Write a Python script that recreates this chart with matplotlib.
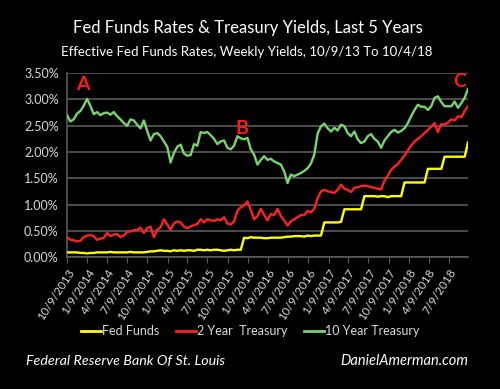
import matplotlib
matplotlib.use("Agg")
import matplotlib.pyplot as plt
import pandas as pd

# Weekly-ish readings, 10/9/13 to 10/4/18 (121 evenly spaced samples)
start_date = "2013-10-09"
end_date = "2018-10-04"

ten_year = [
    2.70, 2.58, 2.62, 2.73, 2.78, 2.88, 3.01, 2.88, 2.72, 2.76,
    2.70, 2.74, 2.75, 2.71, 2.76, 2.68, 2.62, 2.55, 2.50, 2.62,
    2.60, 2.52, 2.45, 2.60, 2.40, 2.22, 2.34, 2.36, 2.30, 2.20,
    2.10, 1.80, 1.98, 2.10, 2.14, 1.97, 1.93, 1.94, 2.15, 2.12,
    2.38, 2.36, 2.38, 2.32, 2.25, 2.15, 2.20, 2.22, 2.08, 2.05,
    2.12, 2.30, 2.26, 2.24, 2.27, 2.05, 1.95, 1.76, 1.85, 1.92,
    1.85, 1.87, 1.82, 1.79, 1.76, 1.63, 1.41, 1.57, 1.54, 1.57,
    1.60, 1.64, 1.69, 1.78, 1.95, 2.35, 2.49, 2.54, 2.45, 2.39,
    2.46, 2.41, 2.52, 2.49, 2.36, 2.30, 2.39, 2.24, 2.17, 2.20,
    2.30, 2.34, 2.25, 2.20, 2.08, 2.22, 2.30, 2.38, 2.42, 2.37,
    2.40, 2.45, 2.55, 2.68, 2.80, 2.90, 2.86, 2.86, 2.80, 2.87,
    3.03, 3.06, 2.95, 2.87, 2.87, 2.87, 2.96, 2.84, 2.93, 3.03,
    3.20,
]

two_year = [
    0.38, 0.33, 0.32, 0.30, 0.31, 0.38, 0.41, 0.42, 0.40, 0.33,
    0.35, 0.37, 0.46, 0.40, 0.43, 0.44, 0.38, 0.41, 0.48, 0.49,
    0.51, 0.52, 0.56, 0.46, 0.55, 0.58, 0.38, 0.52, 0.57, 0.72,
    0.62, 0.52, 0.64, 0.68, 0.66, 0.58, 0.55, 0.58, 0.61, 0.63,
    0.72, 0.66, 0.72, 0.70, 0.69, 0.72, 0.70, 0.76, 0.64, 0.62,
    0.68, 0.88, 0.95, 0.98, 1.06, 0.90, 0.72, 0.78, 0.92, 0.80,
    0.70, 0.82, 0.80, 0.92, 0.78, 0.70, 0.60, 0.68, 0.72, 0.76,
    0.80, 0.80, 0.88, 0.85, 0.92, 1.12, 1.25, 1.28, 1.25, 1.24,
    1.22, 1.28, 1.38, 1.30, 1.28, 1.24, 1.32, 1.33, 1.35, 1.36,
    1.35, 1.33, 1.32, 1.30, 1.29, 1.45, 1.55, 1.66, 1.72, 1.77,
    1.85, 1.93, 2.03, 2.12, 2.20, 2.25, 2.30, 2.36, 2.42, 2.48,
    2.55, 2.38, 2.53, 2.52, 2.56, 2.62, 2.60, 2.68, 2.66, 2.78,
    2.87,
]

fed_funds = [
    0.09, 0.09, 0.09, 0.09, 0.08, 0.08, 0.07, 0.08, 0.08, 0.09,
    0.09, 0.09, 0.09, 0.10, 0.09, 0.09, 0.09, 0.09, 0.09, 0.10,
    0.09, 0.09, 0.09, 0.09, 0.10, 0.11, 0.11, 0.12, 0.13, 0.12,
    0.12, 0.11, 0.13, 0.12, 0.13, 0.12, 0.13, 0.13, 0.12, 0.14,
    0.14, 0.13, 0.14, 0.13, 0.14, 0.14, 0.13, 0.12, 0.13, 0.14,
    0.13, 0.14, 0.14, 0.37, 0.36, 0.38, 0.37, 0.37, 0.37, 0.36,
    0.36, 0.37, 0.37, 0.37, 0.37, 0.38, 0.39, 0.39, 0.40, 0.40,
    0.40, 0.39, 0.41, 0.40, 0.41, 0.41, 0.41, 0.66, 0.66, 0.66,
    0.66, 0.66, 0.67, 0.91, 0.91, 0.91, 0.91, 0.91, 0.91, 1.16,
    1.16, 1.16, 1.16, 1.15, 1.16, 1.16, 1.14, 1.16, 1.16, 1.16,
    1.16, 1.42, 1.42, 1.42, 1.42, 1.42, 1.42, 1.42, 1.68, 1.68,
    1.68, 1.68, 1.68, 1.91, 1.91, 1.91, 1.91, 1.91, 1.91, 1.91,
    2.18,
]

tick_labels = [
    "10/9/2013", "1/9/2014", "4/9/2014", "7/9/2014", "10/9/2014",
    "1/9/2015", "4/9/2015", "7/9/2015", "10/9/2015", "1/9/2016",
    "4/9/2016", "7/9/2016", "10/9/2016", "1/9/2017", "4/9/2017",
    "7/9/2017", "10/9/2017", "1/9/2018", "4/9/2018", "7/9/2018",
]
y_ticks = [0.0, 0.5, 1.0, 1.5, 2.0, 2.5, 3.0, 3.5]

dates = pd.date_range(start_date, end_date, periods=len(ten_year))
tick_dates = pd.to_datetime(tick_labels, format="%m/%d/%Y")

font = "Lato"
label_col = "#d9d9d9"
grid_col = "#5a5a5a"

fig = plt.figure(figsize=(5, 3.89), dpi=100, facecolor="black")
ax = fig.add_axes([0.134, 0.339, 0.802, 0.473], facecolor="black")

ax.plot(dates, fed_funds, color="#ffff00", lw=1.7, label="Fed Funds", zorder=3)
ax.plot(dates, two_year, color="#ff2222", lw=1.7, label="2 Year  Treasury", zorder=3)
ax.plot(dates, ten_year, color="#77d46f", lw=1.7, label="10 Year Treasury", zorder=3)

ax.set_xlim(pd.Timestamp(start_date), pd.Timestamp(end_date))
ax.set_ylim(0, 3.5)
ax.set_yticks(y_ticks)
ax.set_yticklabels(["%.2f%%" % v for v in y_ticks], fontfamily=font,
                   fontsize=9, color=label_col)
ax.set_xticks(tick_dates)
ax.set_xticklabels(tick_labels, rotation=57, ha="right", va="top",
                   rotation_mode="anchor", fontfamily=font, fontsize=8.5,
                   color=label_col)
ax.tick_params(axis="y", length=0, pad=6)
ax.tick_params(axis="x", length=4, color=grid_col, pad=3)
ax.grid(axis="y", color=grid_col, lw=1.2)
for side in ["top", "right"]:
    ax.spines[side].set_visible(False)
for side in ["left", "bottom"]:
    ax.spines[side].set_color(grid_col)
    ax.spines[side].set_linewidth(1.2)

# A / B / C markers
ax.text(pd.Timestamp("2013-12-22"), 3.28, "A", color="#ff1a1a", fontsize=14,
        fontweight="bold", fontfamily=font, ha="center", va="center")
ax.text(pd.Timestamp("2015-12-10"), 2.45, "B", color="#ff1a1a", fontsize=14,
        fontweight="bold", fontfamily=font, ha="center", va="center")
ax.text(pd.Timestamp("2018-08-28"), 3.35, "C", color="#ff1a1a", fontsize=14,
        fontweight="bold", fontfamily=font, ha="center", va="center")

fig.text(0.495, 0.928, "Fed Funds Rates & Treasury Yields, Last 5 Years",
         color="white", fontsize=12, fontfamily=font, ha="center", va="center")
fig.text(0.494, 0.866, "Effective Fed Funds Rates, Weekly Yields, 10/9/13 To 10/4/18",
         color="white", fontsize=9.5, fontfamily=font, ha="center", va="center")

leg = fig.legend(loc="center", bbox_to_anchor=(0.5, 0.148), ncol=3, frameon=False,
                 handlelength=1.6, handletextpad=0.08, columnspacing=1.35,
                 prop={"family": font, "size": 9})
for t in leg.get_texts():
    t.set_color(label_col)
for h in leg.get_lines():
    h.set_linewidth(2.0)

fig.text(0.052, 0.072, "Federal Reserve Bank Of St. Louis", color="white",
         fontsize=10.3, style="italic", fontfamily=font, ha="left", va="center")
fig.text(0.936, 0.072, "DanielAmerman.com", color="white",
         fontsize=10.5, style="italic", fontfamily=font, ha="right", va="center")

fig.savefig("out.png", dpi=100, facecolor="black")
